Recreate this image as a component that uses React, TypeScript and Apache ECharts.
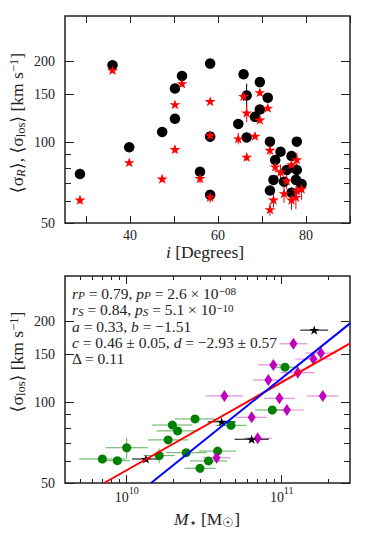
import React, { useEffect, useRef } from 'react';
import * as echarts from 'echarts';

// ---------- Top panel data (inclination vs dispersions) ----------
const inclination = [28.6, 36.0, 39.8, 47.3, 50.2, 50.2, 51.8, 55.9, 58.2, 58.2, 58.2, 64.6, 65.8, 66.5, 66.5, 68.4, 69.5, 69.5, 71.3, 71.8, 73.0, 72.6, 71.8, 74.2, 76.7, 77.9, 75.6, 77.9, 75.0, 77.7, 79.0, 76.7];
const sigmaR = [76, 193, 95.6, 109, 158, 122, 176, 77.5, 195.6, 104.7, 63.6, 116.7, 178.5, 148.8, 104, 124, 167, 132, 146, 100.3, 85.7, 72.3, 66, 92, 88.7, 100.3, 78.7, 78.7, 71.2, 72.3, 69.8, 64.8];
const sigmaRErr = [0, 2, 1, 1, 2, 2, 2, 2, 2, 3, 3, 2, 2, 16, 2, 2, 2, 2, 2, 2, 2, 2, 2, 2, 3, 2, 2, 3, 2, 2, 2, 3];
const sigmaLos = [61, 185, 84, 73, 138, 94, 165, 73.3, 141.7, 106, 62.5, 103, 148, 128.5, 88, 105.3, 153, 121, 134, 93.4, 81, 61, 56.2, 77.5, 82.6, 86.2, 71.8, 66, 64.4, 62.4, 67, 61];
const sigmaLosErr = [2, 3, 2, 2, 3, 3, 4, 3, 3, 4, 3, 5, 6, 10, 3, 3, 4, 4, 3, 4, 4, 4, 3, 5, 6, 5, 5, 5, 5, 6, 6, 5];

// ---------- Bottom panel data (stellar mass vs sigma_los) ----------
const greenMass = [6.97e9, 8.7e9, 1.0e10, 1.62e10, 1.85e10, 1.97e10, 2.13e10, 2.76e10, 2.42e10, 2.97e10, 3.37e10, 3.86e10, 4.71e10, 8.7e10, 1.05e11];
const greenSigma = [61.4, 60.5, 67.6, 63.2, 72.3, 82.1, 78.1, 86.5, 64.8, 56.7, 60.4, 65.7, 81.9, 93.4, 134.7];
const greenLogMassErr = [0.15, 0.08, 0.135, 0.1, 0.13, 0.13, 0.135, 0.13, 0.13, 0.1, 0.12, 0.12, 0.1, 0.11, 0.09];
const greenSigmaErr = [0, 0, 6, 4, 0, 0, 0, 0, 0, 0, 0, 0, 0, 0, 0];

const magentaMass = [3.8e10, 7.0e10, 6.4e10, 1.08e11, 9.66e10, 4.27e10, 1.84e11, 8.2e10, 8.83e10, 1.27e11, 1.19e11, 1.6e11, 1.79e11];
const magentaSigma = [62, 73.3, 87.7, 93.4, 103.2, 105.3, 105.3, 120.7, 137.4, 128.5, 164.6, 144.5, 152];
const magentaLogMassErr = [0.09, 0.09, 0.1, 0.11, 0.1, 0.12, 0.1, 0.1, 0.1, 0.11, 0.09, 0.12, 0.1];

const starMass = [1.33e10, 4.1e10, 6.4e10, 1.62e11];
const starSigma = [61.4, 84.4, 72.7, 185];
const starLogMassErr = [0.09, 0.09, 0.11, 0.09];

const redFitMass = [7.15e9, 2.76e11];
const redFitSigma = [50, 165];
const blueFitMass = [1.436e10, 2.76e11];
const blueFitSigma = [50, 196];

// ---------- Ticks ----------
const sigmaTicksMajor = [50, 100, 150, 200];
const sigmaTicksMinor = [60, 70, 80, 90];
const inclTicks = [30, 40, 50, 60, 70, 80, 90];
const inclLabels = [40, 60, 80];
const massTicksMajor = [1e10, 1e11];
const massTicksMinor = [5e9, 6e9, 7e9, 8e9, 9e9, 2e10, 3e10, 4e10, 5e10, 6e10, 7e10, 8e10, 9e10, 2e11];

const annotationLines = [
  '{i|r}{sub|P}{t| = 0.79, }{i|p}{sub|P}{t| = 2.6 × 10}{sup|−08}',
  '{i|r}{sub|S}{t| = 0.84, }{i|p}{sub|S}{t| = 5.1 × 10}{sup|−10}',
  '{i|a}{t| = 0.33, }{i|b}{t| = −1.51}',
  '{i|c}{t| = 0.46 ± 0.05, }{i|d}{t| = −2.93 ± 0.57}',
  '{t|Δ = 0.11}',
];
const annotationY = [293, 309.5, 326.5, 342.5, 358];

const FONT = 'Liberation Serif, DejaVu Serif, serif';
const TXT = '#222';
const L = Math.log10;

const SIG_MIN = L(50);
const SIG_MAX = L(294);
const INC_MIN = 25.2;
const INC_MAX = 90;
const M_MIN = 9.602;
const M_MAX = 11.4406;

const STAR = 'path://M50 0 L61.23 34.55 L97.55 34.55 L68.17 55.9 L79.39 90.45 L50 69.1 L20.61 90.45 L31.83 55.9 L2.45 34.55 L38.77 34.55 Z';

function richSet(size: number, lh: number) {
  const s = Math.round(lh * 0.5);
  return {
    t: { fontFamily: FONT, fontSize: size, lineHeight: lh, color: TXT, fill: TXT },
    i: { fontFamily: FONT, fontSize: size, fontStyle: 'italic', lineHeight: lh, color: TXT, fill: TXT },
    sub: { fontFamily: FONT, fontSize: size * 0.72, fontStyle: 'italic', lineHeight: s, verticalAlign: 'bottom', color: TXT, fill: TXT },
    subr: { fontFamily: FONT, fontSize: size * 0.72, lineHeight: s, verticalAlign: 'bottom', color: TXT, fill: TXT },
    sup: { fontFamily: FONT, fontSize: size * 0.72, lineHeight: s, verticalAlign: 'top', color: TXT, fill: TXT },
  };
}

function tickAxis(gridIndex: number, position: string, min: number, max: number, ticks: number[], len: number, label?: any) {
  return {
    type: 'value',
    gridIndex,
    position,
    min,
    max,
    axisLine: { show: false },
    splitLine: { show: false },
    axisTick: { show: true, inside: true, length: len, customValues: ticks, lineStyle: { color: TXT, width: 1 } },
    axisLabel: label ? { show: true, ...label } : { show: false },
  };
}

function errorBars(data: number[][], color: string, xAxisIndex: number, yAxisIndex: number, width: number) {
  return {
    type: 'custom',
    xAxisIndex,
    yAxisIndex,
    silent: true,
    clip: true,
    z: 1,
    encode: { x: 0, y: 1 },
    data,
    renderItem: (params: any, api: any) => {
      const y = api.value(1);
      const x = api.value(0);
      const xlo = api.value(2), xhi = api.value(3), ylo = api.value(4), yhi = api.value(5);
      const children: any[] = [];
      if (xhi > xlo) {
        const a = api.coord([xlo, y]);
        const b = api.coord([xhi, y]);
        children.push({ type: 'line', shape: { x1: a[0], y1: a[1], x2: b[0], y2: b[1] }, style: { stroke: color, lineWidth: width } });
      }
      if (yhi > ylo) {
        const a = api.coord([x, ylo]);
        const b = api.coord([x, yhi]);
        children.push({ type: 'line', shape: { x1: a[0], y1: a[1], x2: b[0], y2: b[1] }, style: { stroke: color, lineWidth: width } });
      }
      return { type: 'group', children };
    },
  };
}

export default function App() {
  const ref = useRef<HTMLDivElement>(null);
  useEffect(() => {
    if (!ref.current) return;
    const chart = echarts.init(ref.current, null, { renderer: 'svg' });

    const tickLabelStyle = { fontFamily: FONT, fontSize: 14, color: TXT };
    const sigLabel = {
      customValues: sigmaTicksMajor.map(L),
      formatter: (v: number) => String(Math.round(Math.pow(10, v))),
      margin: 10,
      ...tickLabelStyle,
    };

    const xAxis = [
      tickAxis(0, 'bottom', INC_MIN, INC_MAX, inclTicks, 7, { customValues: inclLabels, formatter: (v: number) => String(Math.round(v)), margin: 5, lineHeight: 14, ...tickLabelStyle }),
      tickAxis(0, 'top', INC_MIN, INC_MAX, inclTicks, 7),
      tickAxis(1, 'bottom', M_MIN, M_MAX, massTicksMajor.map(L), 8, {
        customValues: massTicksMajor.map(L),
        formatter: (v: number) => '{b|10}{s|' + Math.round(v) + '}',
        margin: 2,
        rich: {
          b: { fontFamily: FONT, fontSize: 14, lineHeight: 24, color: TXT },
          s: { fontFamily: FONT, fontSize: 10, lineHeight: 10, verticalAlign: 'top', color: TXT },
        },
      }),
      tickAxis(1, 'bottom', M_MIN, M_MAX, massTicksMinor.map(L), 4),
      tickAxis(1, 'top', M_MIN, M_MAX, massTicksMajor.map(L), 8),
      tickAxis(1, 'top', M_MIN, M_MAX, massTicksMinor.map(L), 4),
    ];
    const yAxis = [
      tickAxis(0, 'left', SIG_MIN, SIG_MAX, sigmaTicksMajor.map(L), 9, sigLabel),
      tickAxis(0, 'left', SIG_MIN, SIG_MAX, sigmaTicksMinor.map(L), 6),
      tickAxis(0, 'right', SIG_MIN, SIG_MAX, sigmaTicksMajor.map(L), 9),
      tickAxis(0, 'right', SIG_MIN, SIG_MAX, sigmaTicksMinor.map(L), 6),
      tickAxis(1, 'left', SIG_MIN, SIG_MAX, sigmaTicksMajor.map(L), 9, sigLabel),
      tickAxis(1, 'left', SIG_MIN, SIG_MAX, sigmaTicksMinor.map(L), 6),
      tickAxis(1, 'right', SIG_MIN, SIG_MAX, sigmaTicksMajor.map(L), 9),
      tickAxis(1, 'right', SIG_MIN, SIG_MAX, sigmaTicksMinor.map(L), 6),
    ];

    const blackErr = inclination.map((inc, k) => [inc, L(sigmaR[k]), 0, 0, L(sigmaR[k] - sigmaRErr[k]), L(sigmaR[k] + sigmaRErr[k])]);
    const redErr = inclination.map((inc, k) => [inc, L(sigmaLos[k]), 0, 0, L(sigmaLos[k] - sigmaLosErr[k]), L(sigmaLos[k] + sigmaLosErr[k])]);
    const greenErr = greenMass.map((m, k) => [L(m), L(greenSigma[k]), L(m) - greenLogMassErr[k], L(m) + greenLogMassErr[k], greenSigmaErr[k] ? L(greenSigma[k] - greenSigmaErr[k]) : 0, greenSigmaErr[k] ? L(greenSigma[k] + greenSigmaErr[k]) : 0]);
    const magentaErr = magentaMass.map((m, k) => [L(m), L(magentaSigma[k]), L(m) - magentaLogMassErr[k], L(m) + magentaLogMassErr[k], 0, 0]);
    const starErr = starMass.map((m, k) => [L(m), L(starSigma[k]), L(m) - starLogMassErr[k], L(m) + starLogMassErr[k], 0, 0]);

    const AX = 17.5;
    const axisRich = richSet(AX, 20);
    const option: any = {
      animation: false,
      grid: [
        { left: 65, top: 16, width: 285, height: 207, show: true, borderColor: TXT, borderWidth: 1.5, backgroundColor: 'transparent' },
        { left: 65, top: 276, width: 285, height: 207, show: true, borderColor: TXT, borderWidth: 1.5, backgroundColor: 'transparent' },
      ],
      xAxis,
      yAxis,
      series: [
        errorBars(blackErr, '#000', 0, 0, 1),
        {
          type: 'scatter', xAxisIndex: 0, yAxisIndex: 0, z: 2,
          symbol: 'circle', symbolSize: 10.5,
          itemStyle: { color: '#000', opacity: 1 },
          data: inclination.map((inc, k) => [inc, L(sigmaR[k])]),
        },
        errorBars(redErr, '#ff0000', 0, 0, 1),
        {
          type: 'scatter', xAxisIndex: 0, yAxisIndex: 0, z: 3,
          symbol: STAR, symbolSize: [11, 10.5], symbolKeepAspect: true,
          itemStyle: { color: '#ff0000', opacity: 1 },
          data: inclination.map((inc, k) => [inc, L(sigmaLos[k])]),
        },
        errorBars(greenErr, 'rgba(0,128,0,0.65)', 2, 4, 1),
        errorBars(magentaErr, 'rgba(191,0,191,0.45)', 2, 4, 1.2),
        errorBars(starErr, '#000', 2, 4, 1),
        {
          type: 'scatter', xAxisIndex: 2, yAxisIndex: 4, z: 2,
          symbol: 'circle', symbolSize: 9,
          itemStyle: { color: '#008000', opacity: 1 },
          data: greenMass.map((m, k) => [L(m), L(greenSigma[k])]),
        },
        {
          type: 'scatter', xAxisIndex: 2, yAxisIndex: 4, z: 2,
          symbol: 'diamond', symbolSize: [8, 12],
          itemStyle: { color: '#bf00bf', opacity: 1 },
          data: magentaMass.map((m, k) => [L(m), L(magentaSigma[k])]),
        },
        {
          type: 'scatter', xAxisIndex: 2, yAxisIndex: 4, z: 2,
          symbol: STAR, symbolSize: [10, 9.5], symbolKeepAspect: true,
          itemStyle: { color: '#000', opacity: 1 },
          data: starMass.map((m, k) => [L(m), L(starSigma[k])]),
        },
        {
          type: 'line', xAxisIndex: 2, yAxisIndex: 4, z: 4, clip: true,
          symbol: 'none', lineStyle: { color: '#ff0000', width: 2 },
          data: redFitMass.map((m, k) => [L(m), L(redFitSigma[k])]),
        },
        {
          type: 'line', xAxisIndex: 2, yAxisIndex: 4, z: 4, clip: true,
          symbol: 'none', lineStyle: { color: '#0000ff', width: 2 },
          data: blueFitMass.map((m, k) => [L(m), L(blueFitSigma[k])]),
        },
      ],
      graphic: [
        {
          type: 'text', x: 17, y: 123, rotation: Math.PI / 2,
          style: {
            text: '{t|⟨σ}{sub|R}{t|⟩, ⟨σ}{subr|los}{t|⟩ [km s}{sup|−1}{t|]}',
            rich: axisRich, align: 'center', verticalAlign: 'middle', fontFamily: FONT, fontSize: AX, fill: TXT,
          },
        },
        {
          type: 'text', x: 205, y: 252,
          style: {
            text: '{i|i}{t| [Degrees]}',
            rich: axisRich, align: 'center', verticalAlign: 'middle', fontFamily: FONT, fontSize: AX, fill: TXT,
          },
        },
        {
          type: 'text', x: 17, y: 362, rotation: Math.PI / 2,
          style: {
            text: '{t|⟨σ}{subr|los}{t|⟩ [km s}{sup|−1}{t|]}',
            rich: axisRich, align: 'center', verticalAlign: 'middle', fontFamily: FONT, fontSize: AX, fill: TXT,
          },
        },
        {
          type: 'text', x: 207, y: 519,
          style: {
            text: '{i|M}{subr|⋆}{t| [M}{subr|☉}{t|]}',
            rich: axisRich, align: 'center', verticalAlign: 'middle', fontFamily: FONT, fontSize: AX, fill: TXT,
          },
        },
        ...annotationLines.map((line, k) => ({
          type: 'text', x: 72, y: annotationY[k],
          style: {
            text: line,
            rich: richSet(15.5, 15), align: 'left', verticalAlign: 'middle', fontFamily: FONT, fontSize: 15.5, fill: TXT,
          },
          z: 10,
        })),
      ],
    };
    chart.setOption(option);
    return () => chart.dispose();
  }, []);

  return <div ref={ref} style={{ position: 'fixed', left: 0, top: 0, width: 374, height: 538, background: '#fff' }} />;
}
